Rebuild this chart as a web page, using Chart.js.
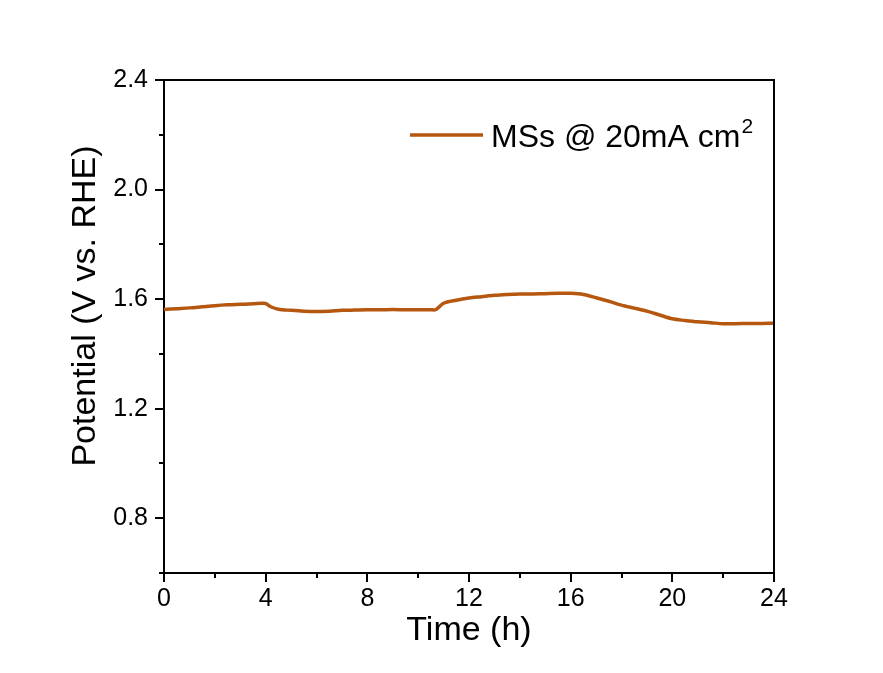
<!DOCTYPE html>
<html>
<head>
<meta charset="utf-8">
<script src="https://cdn.jsdelivr.net/npm/chart.js@4.4.1/dist/chart.umd.min.js"></script>
<style>
    html, body { margin: 0; padding: 0; background: #ffffff; }
    #wrap { width: 883px; height: 673px; position: relative; }
</style>
</head>
<body>
<div id="wrap"><canvas id="stabilityChart" width="883" height="673"></canvas></div>
<script>
// chronopotentiometry
var timeHours = [0, 0.5, 1, 1.5, 2, 2.5, 3, 3.5, 4, 4.2, 4.5, 5, 5.5, 6, 6.5, 7, 7.5, 8, 8.5, 9, 9.5, 10, 10.5, 10.7,
    11, 11.5, 12, 12.5, 13, 13.5, 14, 14.5, 15, 15.5, 16, 16.5, 17, 17.5, 18, 18.5, 19, 19.5, 20, 20.5, 21, 21.5,
    22, 22.5, 23, 23.5, 24];
var potential = [1.562, 1.565, 1.568, 1.572, 1.576, 1.579, 1.581, 1.583, 1.584, 1.572, 1.563, 1.559, 1.556, 1.555,
    1.556, 1.559, 1.560, 1.561, 1.561, 1.562, 1.561, 1.561, 1.561, 1.562, 1.585, 1.596, 1.604, 1.609, 1.614, 1.617,
    1.619, 1.619, 1.620, 1.621, 1.621, 1.617, 1.605, 1.592, 1.578, 1.567, 1.556, 1.542, 1.528, 1.522, 1.517, 1.514,
    1.510, 1.510, 1.511, 1.511, 1.512];
var xMajorTicks = [0, 4, 8, 12, 16, 20, 24];
var xMinorTicks = [2, 6, 10, 14, 18, 22];
var yMajorTicks = [0.8, 1.2, 1.6, 2.0, 2.4];
var yMinorTicks = [0.6, 1.0, 1.4, 1.8, 2.2];
var seriesLabel = 'MSs @ 20mA cm';
var xTitle = 'Time (h)';
var yTitle = 'Potential (V vs. RHE)';

var LINE_COLOR = '#B5570F';
var FONT = '"Liberation Sans", Arial, sans-serif';

var points = timeHours.map(function (t, i) { return { x: t, y: potential[i] }; });

// box, minor ticks, y title and legend (legend needs the superscript 2)
var extrasPlugin = {
    id: 'extras',
    afterDraw: function (chart) {
        var ctx = chart.ctx;
        var area = chart.chartArea;
        var xs = chart.scales.x;
        var ys = chart.scales.y;
        ctx.save();
        ctx.strokeStyle = '#000';
        ctx.lineWidth = 2;
        ctx.beginPath();
        ctx.moveTo(area.left, area.top);
        ctx.lineTo(area.right, area.top);
        ctx.lineTo(area.right, area.bottom);
        ctx.stroke();

        ctx.beginPath();
        xMinorTicks.forEach(function (v) {
            var px = Math.round(xs.getPixelForValue(v));
            ctx.moveTo(px, area.bottom);
            ctx.lineTo(px, area.bottom + 5);
        });
        yMinorTicks.forEach(function (v) {
            var py = Math.round(ys.getPixelForValue(v));
            ctx.moveTo(area.left, py);
            ctx.lineTo(area.left - 5, py);
        });
        ctx.stroke();

        ctx.fillStyle = '#000';
        ctx.translate(86, 306);
        ctx.rotate(-Math.PI / 2);
        ctx.font = '34px ' + FONT;
        ctx.textAlign = 'center';
        ctx.textBaseline = 'middle';
        ctx.fillText(yTitle, 0, 0);
        ctx.restore();

        ctx.save();
        ctx.strokeStyle = LINE_COLOR;
        ctx.lineWidth = 3.5;
        ctx.beginPath();
        ctx.moveTo(410, 135);
        ctx.lineTo(483, 135);
        ctx.stroke();
        ctx.fillStyle = '#000';
        ctx.font = '32px ' + FONT;
        ctx.textBaseline = 'alphabetic';
        ctx.textAlign = 'left';
        ctx.fillText(seriesLabel, 491, 147);
        var w = ctx.measureText(seriesLabel).width;
        ctx.font = '21px ' + FONT;
        ctx.fillText('2', 491 + w + 1, 133);
        ctx.restore();
    }
};

new Chart(document.getElementById('stabilityChart'), {
    type: 'line',
    data: {
        datasets: [
            {
                label: seriesLabel,
                data: points,
                borderColor: LINE_COLOR,
                borderWidth: 3.5,
                pointRadius: 0,
                fill: false,
                tension: 0.3
            }
        ]
    },
    options: {
        responsive: false,
        animation: false,
        layout: { padding: { top: 80, right: 109, left: 0, bottom: 0 } },
        plugins: {
            legend: { display: false },
            tooltip: { enabled: false }
        },
        scales: {
            x: {
                type: 'linear',
                min: 0,
                max: 24,
                afterBuildTicks: function (scale) {
                    scale.ticks = xMajorTicks.map(function (v) { return { value: v }; });
                },
                afterFit: function (scale) { scale.height = 100; },
                ticks: {
                    color: '#000',
                    font: { family: FONT, size: 25 },
                    padding: 2,
                    maxRotation: 0,
                    callback: function (v) { return String(v); }
                },
                grid: { drawOnChartArea: false, drawTicks: true, tickLength: 9, color: '#000', lineWidth: 2 },
                border: { display: true, color: '#000', width: 2 },
                title: {
                    display: true,
                    text: xTitle,
                    color: '#000',
                    font: { family: FONT, size: 34 },
                    padding: { top: 0, bottom: 22 }
                }
            },
            y: {
                type: 'linear',
                min: 0.6,
                max: 2.4,
                afterBuildTicks: function (scale) {
                    scale.ticks = yMajorTicks.map(function (v) { return { value: v }; });
                },
                afterFit: function (scale) { scale.width = 164; },
                ticks: {
                    color: '#000',
                    font: { family: FONT, size: 25 },
                    padding: 7,
                    callback: function (v) { return Number(v).toFixed(1); }
                },
                grid: { drawOnChartArea: false, drawTicks: true, tickLength: 9, color: '#000', lineWidth: 2 },
                border: { display: true, color: '#000', width: 2 }
            }
        }
    },
    plugins: [extrasPlugin]
});
</script>
</body>
</html>
